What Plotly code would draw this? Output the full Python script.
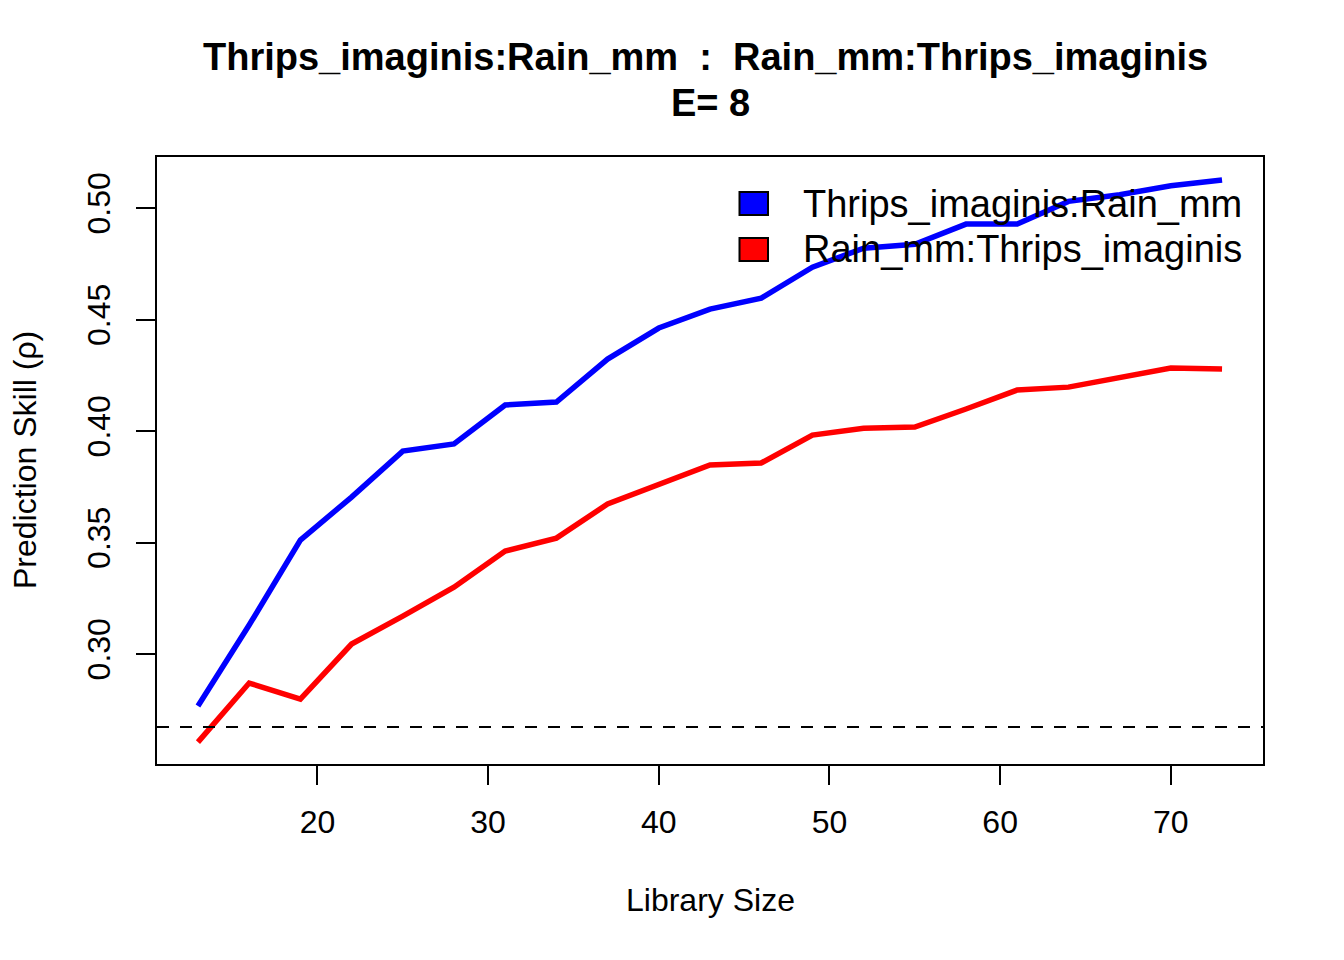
import plotly.graph_objects as go

lib_size = [13, 16, 19, 22, 25, 28, 31, 34, 37, 40, 43, 46, 49, 52, 55, 58, 61, 64, 67, 70, 73]
thrips_rain = [0.2767, 0.3130, 0.3511, 0.3704, 0.3910, 0.3942, 0.4117, 0.4130, 0.4323, 0.4462,
               0.4547, 0.4596, 0.4735, 0.4820, 0.4838, 0.4928, 0.4928, 0.5030, 0.5060, 0.5100, 0.5126]
rain_thrips = [0.2605, 0.2870, 0.2798, 0.3045, 0.3170, 0.3300, 0.3462, 0.3520, 0.3673, 0.3758,
               0.3848, 0.3857, 0.3982, 0.4013, 0.4018, 0.4099, 0.4184, 0.4197, 0.4242, 0.4283, 0.4278]
threshold = 0.2673
series_names = ["Thrips_imaginis:Rain_mm", "Rain_mm:Thrips_imaginis"]
series_colors = ["#0000FF", "#FF0000"]
x_ticks = [20, 30, 40, 50, 60, 70]
y_ticks = [0.30, 0.35, 0.40, 0.45, 0.50]
y_ticklabels = ["0.30", "0.35", "0.40", "0.45", "0.50"]

FONT = "Liberation Sans, Arial, Helvetica, sans-serif"
OFF = 8  # page body margin
W, H = 1344, 960
L, R, T, B = 157 - OFF, W - 1263 + OFF, 157 - OFF, H - 764 + OFF
PW, PH = W - L - R, H - T - B


def px_x(px):
    return (px - OFF - L) / PW


def px_y(py):
    return (H - B - (py - OFF)) / PH


fig = go.Figure()
for vals, name, col in zip([thrips_rain, rain_thrips], series_names, series_colors):
    fig.add_trace(go.Scatter(x=lib_size, y=vals, mode="lines", name=name,
                             line=dict(color=col, width=5.5), showlegend=False))

fig.add_shape(type="line", xref="paper", x0=0, x1=1, yref="y", y0=threshold, y1=threshold,
              line=dict(color="black", width=2, dash="12px,11px"))

annotations = [
    dict(text="<b>Thrips_imaginis:Rain_mm  :  Rain_mm:Thrips_imaginis</b>",
         xref="paper", yref="paper", x=px_x(705), y=px_y(57),
         xanchor="center", yanchor="middle", showarrow=False,
         font=dict(size=38, family=FONT)),
    dict(text="<b>E= 8</b>", xref="paper", yref="paper", x=px_x(710), y=px_y(103),
         xanchor="center", yanchor="middle", showarrow=False,
         font=dict(size=38, family=FONT)),
    dict(text="Library Size", xref="paper", yref="paper", x=px_x(710), y=px_y(900),
         xanchor="center", yanchor="middle", showarrow=False,
         font=dict(size=32, family=FONT)),
    dict(text="Prediction Skill (ρ)", xref="paper", yref="paper",
         x=px_x(25), y=px_y(460),
         xanchor="center", yanchor="middle", textangle=-90, showarrow=False,
         font=dict(size=32, family=FONT)),
]

# legend (R-style filled boxes with black border)
legend_rows_y = [203.5, 249.5]
for name, col, ry in zip(series_names, series_colors, legend_rows_y):
    fig.add_shape(type="rect", xref="paper", yref="paper",
                  x0=px_x(739.5), x1=px_x(768), y0=px_y(ry - 11.5), y1=px_y(ry + 11.5),
                  fillcolor=col, line=dict(color="black", width=2))
    annotations.append(dict(text=name, xref="paper", yref="paper",
                            x=px_x(801), y=px_y(ry), xanchor="left", yanchor="middle",
                            showarrow=False, font=dict(size=38, family=FONT)))

fig.update_layout(
    width=W, height=H,
    margin=dict(l=L, r=R, t=T, b=B),
    paper_bgcolor="white", plot_bgcolor="white",
    font=dict(family=FONT, size=32, color="black"),
    showlegend=False,
    xaxis=dict(range=[10.6, 75.4], tickvals=x_ticks, ticks="outside", ticklen=19,
               tickwidth=2, tickcolor="black", showline=True, linecolor="black",
               linewidth=2, mirror=True, showgrid=False, zeroline=False,
               ticklabelstandoff=10,
               tickfont=dict(size=32, family=FONT)),
    yaxis=dict(range=[0.2507, 0.5229], tickvals=y_ticks, ticktext=y_ticklabels,
               ticks="outside", ticklen=19, tickwidth=2, tickcolor="black",
               showline=True, linecolor="black", linewidth=2, mirror=True,
               showgrid=False, zeroline=False, tickangle=-90,
               ticklabelstandoff=13,
               tickfont=dict(size=32, family=FONT)),
    annotations=annotations,
)

fig.write_html("out.html")
